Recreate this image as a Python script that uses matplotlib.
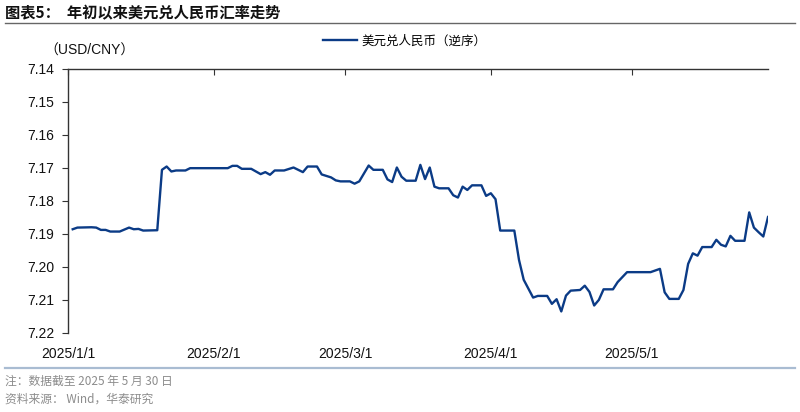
import matplotlib
matplotlib.use("Agg")
import matplotlib.pyplot as plt
import pandas as pd
from matplotlib.lines import Line2D

plt.rcParams['font.family'] = ['Liberation Sans', 'Noto Sans CJK SC']

# USD/CNY (vertices of the line)
dates = [
    "2025-01-02", "2025-01-03", "2025-01-06", "2025-01-07", "2025-01-08", "2025-01-09",
    "2025-01-10", "2025-01-12", "2025-01-14", "2025-01-15", "2025-01-16", "2025-01-17",
    "2025-01-20", "2025-01-21", "2025-01-22", "2025-01-23", "2025-01-24", "2025-01-26",
    "2025-01-27", "2025-02-04", "2025-02-05", "2025-02-06", "2025-02-07", "2025-02-09",
    "2025-02-11", "2025-02-12", "2025-02-13", "2025-02-14", "2025-02-16", "2025-02-18",
    "2025-02-20", "2025-02-21", "2025-02-23", "2025-02-24", "2025-02-26", "2025-02-27",
    "2025-02-28", "2025-03-02", "2025-03-03", "2025-03-04", "2025-03-06", "2025-03-07",
    "2025-03-09", "2025-03-10", "2025-03-11", "2025-03-12", "2025-03-13", "2025-03-14",
    "2025-03-16", "2025-03-17", "2025-03-18", "2025-03-19", "2025-03-20", "2025-03-21",
    "2025-03-23", "2025-03-24", "2025-03-25", "2025-03-26", "2025-03-27", "2025-03-28",
    "2025-03-30", "2025-03-31", "2025-04-01", "2025-04-02", "2025-04-03", "2025-04-06",
    "2025-04-07", "2025-04-08", "2025-04-10", "2025-04-11", "2025-04-13", "2025-04-14",
    "2025-04-15", "2025-04-16", "2025-04-17", "2025-04-18", "2025-04-20", "2025-04-21",
    "2025-04-22", "2025-04-23", "2025-04-24", "2025-04-25", "2025-04-27", "2025-04-28",
    "2025-04-30", "2025-05-05", "2025-05-07", "2025-05-08", "2025-05-09", "2025-05-11",
    "2025-05-12", "2025-05-13", "2025-05-14", "2025-05-15", "2025-05-16", "2025-05-18",
    "2025-05-19", "2025-05-20", "2025-05-21", "2025-05-22", "2025-05-23", "2025-05-25",
    "2025-05-26", "2025-05-27", "2025-05-28", "2025-05-29", "2025-05-30",
]
rates = [
    7.1886, 7.1881, 7.1880, 7.1881, 7.1888, 7.1888,
    7.1893, 7.1893, 7.1881, 7.1886, 7.1885, 7.1890,
    7.1889, 7.1706, 7.1696, 7.1711, 7.1708, 7.1708,
    7.1701, 7.1701, 7.1694, 7.1694, 7.1703, 7.1703,
    7.1719, 7.1713, 7.1721, 7.1708, 7.1708, 7.1699,
    7.1713, 7.1696, 7.1696, 7.1720, 7.1729, 7.1738,
    7.1741, 7.1741, 7.1748, 7.1741, 7.1693, 7.1706,
    7.1706, 7.1735, 7.1743, 7.1699, 7.1727, 7.1739,
    7.1739, 7.1691, 7.1734, 7.1699, 7.1757, 7.1762,
    7.1762, 7.1783, 7.1790, 7.1757, 7.1767, 7.1753,
    7.1753, 7.1785, 7.1777, 7.1795, 7.1890, 7.1890,
    7.1979, 7.2039, 7.2093, 7.2088, 7.2088, 7.2112,
    7.2098, 7.2135, 7.2087, 7.2072, 7.2070, 7.2057,
    7.2076, 7.2117, 7.2100, 7.2068, 7.2068, 7.2046,
    7.2016, 7.2016, 7.2006, 7.2077, 7.2097, 7.2097,
    7.2070, 7.1991, 7.1959, 7.1966, 7.1940, 7.1940,
    7.1918, 7.1933, 7.1938, 7.1906, 7.1921, 7.1921,
    7.1835, 7.1881, 7.1895, 7.1908, 7.1849,
]

month_ticks = ["2025-01-01", "2025-02-01", "2025-03-01", "2025-04-01", "2025-05-01"]
month_labels = ["2025/1/1", "2025/2/1", "2025/3/1", "2025/4/1", "2025/5/1"]
y_ticks = [7.14, 7.15, 7.16, 7.17, 7.18, 7.19, 7.20, 7.21, 7.22]

series_name = "美元兑人民币（逆序）"
line_color = "#0b3b86"

fig = plt.figure(figsize=(8, 4.12), dpi=100)
ax = fig.add_axes([0.085, 0.192, 0.875, 0.641])

ax.plot(pd.to_datetime(dates), rates, color=line_color, lw=1.7, label=series_name)

# reversed y axis, x axis sits at 7.14 (top) with labels at the bottom
ax.set_ylim(7.22, 7.14)
ax.set_xlim(pd.Timestamp("2025-01-01"), pd.Timestamp("2025-05-30"))
ax.set_yticks(y_ticks)
ax.set_yticklabels([f"{v:.2f}" for v in y_ticks])
ax.set_xticks(pd.to_datetime(month_ticks))
ax.set_xticklabels(month_labels)

for s in ("right", "bottom"):
    ax.spines[s].set_visible(False)
for s in ("left", "top"):
    ax.spines[s].set_color("#333333")
    ax.spines[s].set_linewidth(1.0)

ax.tick_params(axis="x", top=True, bottom=False, labeltop=False, labelbottom=True,
               direction="in", length=4, color="#333333", pad=10,
               labelsize=10, labelcolor="#111111")
ax.tick_params(axis="y", direction="out", length=4, color="#333333",
               labelsize=10, labelcolor="#111111", pad=6)

fig.legend(loc="center", bbox_to_anchor=(0.506, 0.9), frameon=False,
           fontsize=9, handlelength=2.7, handletextpad=0.35)

fig.text(0.056, 0.878, "（USD/CNY）", fontsize=10, color="#111111", va="center")

# header and footer
fig.text(0.006, 0.968, "图表5：  年初以来美元兑人民币汇率走势", fontsize=11,
         fontweight="bold", color="#111111", va="center",
         family=["Noto Sans CJK SC", "DejaVu Sans"])
fig.add_artist(Line2D([0.006, 0.994], [0.943, 0.943], transform=fig.transFigure,
                      color="#666666", lw=1.0))
fig.add_artist(Line2D([0.006, 0.994], [0.106, 0.106], transform=fig.transFigure,
                      color="#a9bcd2", lw=1.6))
fig.text(0.006, 0.074, "注：数据截至 2025 年 5 月 30 日", fontsize=8.5,
         color="#8c8c8c", va="center", family=["Noto Sans CJK SC", "DejaVu Sans"])
fig.text(0.006, 0.032, "资料来源： Wind，华泰研究", fontsize=8.5,
         color="#8c8c8c", va="center", family=["Noto Sans CJK SC", "DejaVu Sans"])

fig.savefig("out.png", dpi=100)
